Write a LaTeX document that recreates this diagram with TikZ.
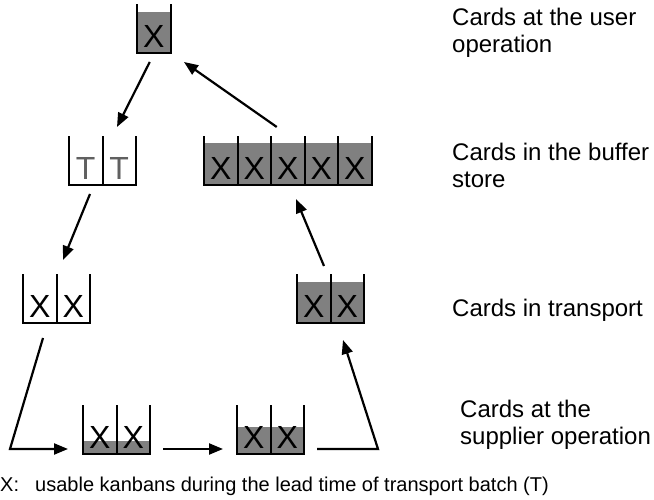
\documentclass[tikz,border=0pt]{standalone}
\usepackage{fontspec}
\setmainfont{Liberation Sans}
\usepackage{tikz}
\usetikzlibrary{arrows.meta,calc}

\definecolor{cardgray}{RGB}{128,128,128}
\definecolor{tgray}{RGB}{96,96,96}

% one kanban bin: name, x, y (south west), cells, fill height, letter, letter colour
\newcommand{\kanbanbin}[7]{%
  \node[bin, minimum width=#4*33.5pt, anchor=south west] (#1) at (#2,#3) {};
  \fill[cardgray] (#1.south west) rectangle ($(#1.south east)+(0,#5)$);
  \draw[wall] (#1.north west) -- (#1.south west) -- (#1.south east) -- (#1.north east);
  \foreach \k in {1,...,#4}{
    \draw[wall] ($(#1.south west)+(\k*33.5,0)$) -- ++(0,48);
    \node[binletter, text=#7] at ($(#1.south west)+({(\k-0.5)*33.5},5)$) {#6};
  }%
}

\begin{document}
\begin{tikzpicture}[x=1pt, y=1pt,
  bin/.style={rectangle, inner sep=0pt, outer sep=0pt, minimum height=48pt},
  wall/.style={line width=2pt, line cap=rect},
  binletter/.style={anchor=base, inner sep=0pt, font=\fontsize{32}{32}\selectfont},
  flow/.style={-{Triangle[length=14pt,width=11pt]}, line width=2.2pt},
  level/.style={anchor=base west, align=left, inner sep=0pt, font=\fontsize{24}{27}\selectfont},
  key/.style={anchor=base west, inner sep=0pt, font=\fontsize{20}{24}\selectfont}]

  \useasboundingbox (0,0) rectangle (654,500);

  % =========================
  % bins
  % =========================
  \kanbanbin{user}{137}{447}{1}{41}{X}{black}
  \kanbanbin{tt}{69}{315}{2}{0}{T}{tgray}
  \kanbanbin{buffer}{204}{315}{5}{42}{X}{black}
  \kanbanbin{trL}{23}{177}{2}{0}{X}{black}
  \kanbanbin{trR}{297}{177}{2}{41}{X}{black}
  \kanbanbin{supA}{83}{46}{2}{13}{X}{black}
  \kanbanbin{supB}{237}{46}{2}{27}{X}{black}

  % =========================
  % card flow
  % =========================
  \coordinate (bendL) at (10,51);
  \coordinate (bendR) at (378,51);

  \draw[flow] ($(user.south)+(-4,-9)$) -- ($(tt.north east)+(-19,10)$);
  \draw[flow] ($(buffer.north)+(-11,10)$) -- ($(user.south east)+(13.5,-9)$);
  \draw[flow] ($(tt.south)+(-12.5,-9)$) -- ($(trL.north)+(6.5,15)$);
  \draw[flow] ($(trR.north)+(-6.5,9)$) -- ($(buffer.south)+(8.25,-14)$);
  \draw[flow] ($(trL.south)+(-13.5,-15)$) -- (bendL) -- ($(supA.south west)+(-15,5)$);
  \draw[flow] ($(supA.south east)+(13,5)$) -- ($(supB.south west)+(-14,5)$);
  \draw[flow] ($(supB.south east)+(13,5)$) -- (bendR) -- ($(trR.south)+(12.5,-17)$);

  % =========================
  % level labels
  % =========================
  \node[level] (lbluser) at (452,447) {Cards at the user\\operation};
  \node[level] (lblbuffer) at (452,312) {Cards in the buffer\\store};
  \node[level] (lbltransport) at (452,183) {Cards in transport};
  \node[level] (lblsupplier) at (460,55) {Cards at the\\supplier operation};

  % legend
  \node[key] (keyx) at (0,8) {X:};
  \node[key] (keytext) at (35,8)
    {usable kanbans during the lead time of transport batch (T)};

\end{tikzpicture}
\end{document}
